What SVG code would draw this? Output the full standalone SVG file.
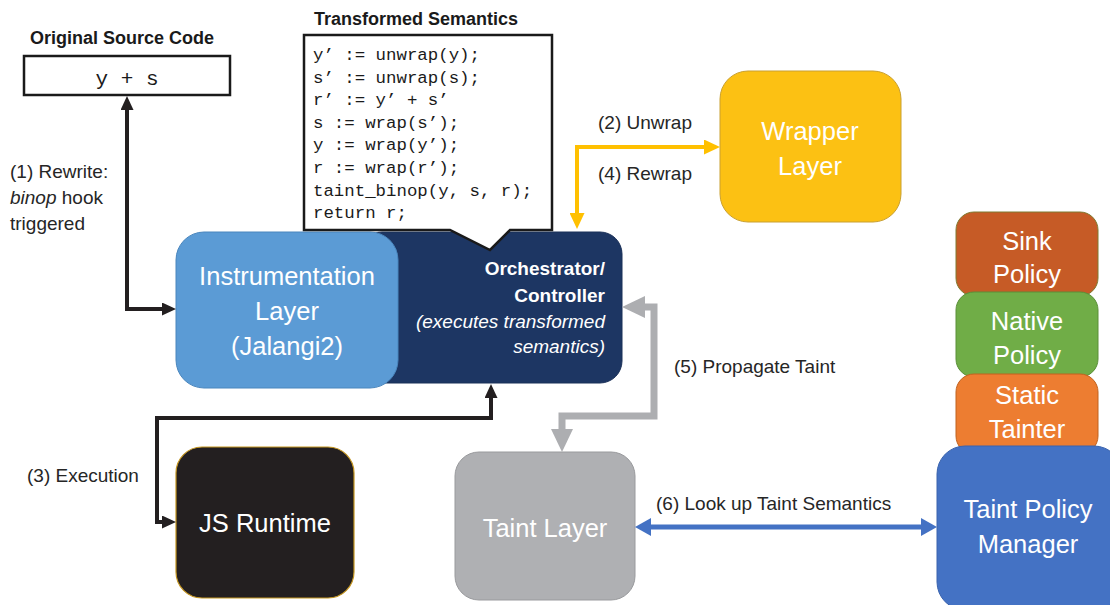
<svg xmlns="http://www.w3.org/2000/svg" width="1110" height="605" viewBox="0 0 1110 605">
<style>
.lbl{font-family:"Liberation Sans",Arial,sans-serif;font-size:19px;fill:#262626}
.ttl{font-family:"Liberation Sans",Arial,sans-serif;font-size:18px;font-weight:bold;fill:#1a1a1a}
.node{font-family:"Liberation Sans",Arial,sans-serif;font-size:25.5px;fill:#ffffff;text-anchor:middle}
.code{font-family:"Liberation Mono","Courier New",monospace;font-size:17.4px;fill:#1a1a1a}
.orch{font-family:"Liberation Sans",Arial,sans-serif;font-size:19px;fill:#ffffff;text-anchor:end}
.blk{fill:none;stroke:#231f20;stroke-width:4}
.org{fill:none;stroke:#ffc000;stroke-width:4}
.gry{fill:none;stroke:#adaeb1;stroke-width:7}
.blu{fill:none;stroke:#4472c4;stroke-width:5}
</style>
<defs>
<marker id="hBlk" markerUnits="userSpaceOnUse" viewBox="0 0 14 13" refX="0" refY="6.5" markerWidth="14" markerHeight="13" orient="auto-start-reverse"><path d="M0,0 L14,6.5 L0,13 z" fill="#231f20"/></marker>
<marker id="hOrg" markerUnits="userSpaceOnUse" viewBox="0 0 16 15" refX="0" refY="7.5" markerWidth="16" markerHeight="15" orient="auto-start-reverse"><path d="M0,0 L16,7.5 L0,15 z" fill="#ffc000"/></marker>
<marker id="hGry" markerUnits="userSpaceOnUse" viewBox="0 0 23 22" refX="0" refY="11" markerWidth="23" markerHeight="22" orient="auto-start-reverse"><path d="M0,0 L23,11 L0,22 z" fill="#adaeb1"/></marker>
<marker id="hBlu" markerUnits="userSpaceOnUse" viewBox="0 0 16 18" refX="0" refY="9" markerWidth="16" markerHeight="18" orient="auto-start-reverse"><path d="M0,0 L16,9 L0,18 z" fill="#4472c4"/></marker>
</defs>
<rect width="1110" height="605" fill="#ffffff"/>

<g id="source-code">
<text class="ttl" x="30" y="44">Original Source Code</text>
<rect x="24" y="56" width="206" height="39" fill="#ffffff" stroke="#1a1a1a" stroke-width="2.5"/>
<text x="127" y="85" font-family="Liberation Mono,monospace" font-size="21" fill="#1a1a1a" text-anchor="middle">y + s</text>
</g>

<g id="orchestrator">
<rect x="360" y="232" width="262" height="151" rx="22" fill="#1d3663" stroke="#1a3058" stroke-width="1"/>
<text class="orch" x="605" y="275" font-weight="bold">Orchestrator/</text>
<text class="orch" x="605" y="302" font-weight="bold">Controller</text>
<text class="orch" x="605" y="328" font-style="italic">(executes transformed</text>
<text class="orch" x="605" y="353" font-style="italic">semantics)</text>
</g>

<g id="instrumentation">
<rect x="176" y="232" width="222" height="156" rx="28" fill="#5b9bd5" stroke="#4a86bd" stroke-width="1"/>
<text class="node" x="287" y="285" font-size="27">Instrumentation</text>
<text class="node" x="287" y="320">Layer</text>
<text class="node" x="287" y="355">(Jalangi2)</text>
</g>

<g id="transformed-semantics">
<text class="ttl" x="314" y="25">Transformed Semantics</text>
<path d="M304,35 H552 V230 H510 L490,250 L450,230 H304 Z" fill="#ffffff" stroke="#1a1a1a" stroke-width="2.5" stroke-linejoin="miter"/>
<text class="code" x="313" y="60">y’ := unwrap(y);</text>
<text class="code" x="313" y="82.6">s’ := unwrap(s);</text>
<text class="code" x="313" y="105.2">r’ := y’ + s’</text>
<text class="code" x="313" y="127.8">s := wrap(s’);</text>
<text class="code" x="313" y="150.4">y := wrap(y’);</text>
<text class="code" x="313" y="173">r := wrap(r’);</text>
<text class="code" x="313" y="195.6">taint_binop(y, s, r);</text>
<text class="code" x="313" y="218.2">return r;</text>
</g>

<g id="wrapper-layer">
<rect x="720" y="71" width="181" height="151" rx="28" fill="#fcc113" stroke="#c9a030" stroke-width="1"/>
<text class="node" x="810" y="140">Wrapper</text>
<text class="node" x="810" y="175">Layer</text>
</g>

<g id="js-runtime">
<rect x="176" y="447" width="178" height="151" rx="26" fill="#231f20" stroke="#c49520" stroke-width="1.2"/>
<text class="node" x="265" y="532">JS Runtime</text>
</g>

<g id="taint-layer">
<rect x="455" y="452" width="180" height="148" rx="24" fill="#afb0b3" stroke="#999a9d" stroke-width="1"/>
<text class="node" x="545" y="537">Taint Layer</text>
</g>

<g id="sink-policy">
<rect x="956" y="212" width="142" height="84" rx="18" fill="#c65b26" stroke="#7f7a30" stroke-width="1"/>
<text class="node" x="1027" y="250">Sink</text>
<text class="node" x="1027" y="283">Policy</text>
</g>

<g id="native-policy">
<rect x="956" y="292" width="142" height="85" rx="18" fill="#70ad47" stroke="#5a8f38" stroke-width="1"/>
<text class="node" x="1027" y="330">Native</text>
<text class="node" x="1027" y="364">Policy</text>
</g>

<g id="static-tainter">
<rect x="956" y="374" width="142" height="80" rx="18" fill="#ed7d31" stroke="#c0621f" stroke-width="1"/>
<text class="node" x="1027" y="404">Static</text>
<text class="node" x="1027" y="438">Tainter</text>
</g>

<g id="taint-policy-manager">
<rect x="937" y="446" width="185" height="164" rx="28" fill="#4472c4" stroke="#3a63ad" stroke-width="1"/>
<text class="node" x="1028" y="518">Taint Policy</text>
<text class="node" x="1028" y="553">Manager</text>
</g>

<g id="connectors">
<path class="blk" d="M127,110 V309 H162" marker-start="url(#hBlk)" marker-end="url(#hBlk)"/>
<path class="blk" d="M491,398 V418 H157 V522 H162" marker-start="url(#hBlk)" marker-end="url(#hBlk)"/>
<path class="org" d="M704,147 H577 V213" marker-start="url(#hOrg)" marker-end="url(#hOrg)"/>
<path class="gry" d="M645,307 H654 V416 H562 V429" marker-start="url(#hGry)" marker-end="url(#hGry)"/>
<path class="blu" d="M651,527 H921" marker-start="url(#hBlu)" marker-end="url(#hBlu)"/>
<text class="lbl" x="10" y="178">(1)  Rewrite:</text>
<text class="lbl" x="10" y="204"><tspan font-style="italic">binop</tspan> hook</text>
<text class="lbl" x="10" y="230">triggered</text>
<text class="lbl" x="598" y="129">(2) Unwrap</text>
<text class="lbl" x="598" y="180">(4) Rewrap</text>
<text class="lbl" x="27" y="482">(3) Execution</text>
<text class="lbl" x="674" y="373">(5) Propagate Taint</text>
<text class="lbl" x="656" y="510">(6) Look up Taint Semantics</text>
</g>
</svg>
